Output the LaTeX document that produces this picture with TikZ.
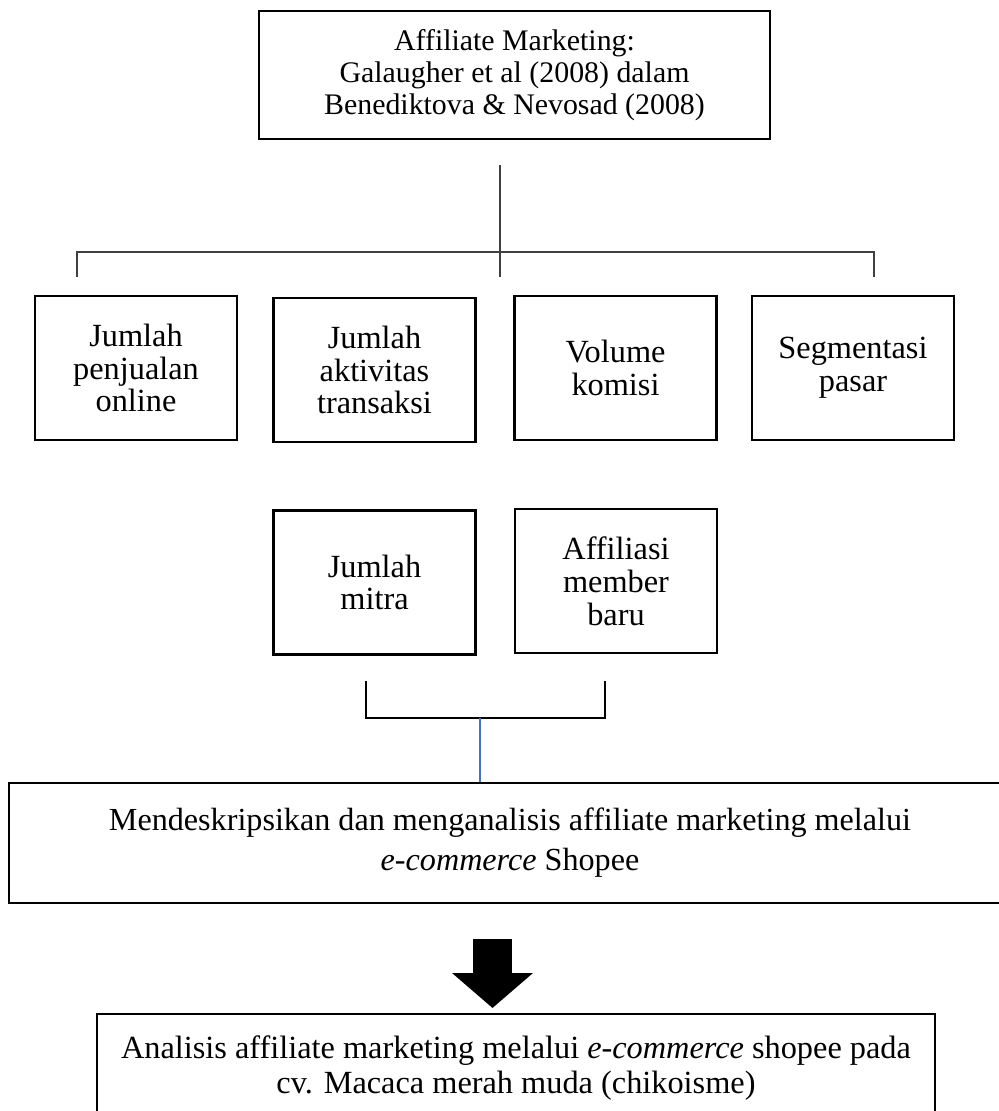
\documentclass[tikz,border=0pt]{standalone}
\usepackage{fontspec}
\setmainfont{Liberation Serif}
\usetikzlibrary{arrows.meta}

\begin{document}
\begin{tikzpicture}[x=0.02cm, y=-0.02cm,
    box/.style={draw, line width=1.3pt, align=center, inner sep=0pt,
      font=\fontsize{18.4}{18.7}\selectfont},
    item/.style={box, minimum width=4.04cm, minimum height=2.88cm},
    tree/.style={draw=black!75, line width=0.8pt}]
  \useasboundingbox (0,0) rectangle (999,1111);
  % theory
  \node[box, minimum width=10.22cm, minimum height=2.56cm,
    font=\fontsize{17}{18.4}\selectfont] (theory) at (514.5,75)
    {Affiliate Marketing:\\ Galaugher et al (2008) dalam\\ Benediktova \& Nevosad (2008)};
  % indicators
  \node[item] (ind1) at (136,368) {Jumlah\\ penjualan\\ online};
  \node[item] (ind2) at (374.5,370) {Jumlah\\ aktivitas\\ transaksi};
  \node[item] (ind3) at (615.5,368) {Volume\\ komisi};
  \node[item] (ind4) at (853,368) {Segmentasi\\ pasar};
  \node[item] (ind5) at (374.5,582.5) {Jumlah\\ mitra};
  \node[item] (ind6) at (616,581) {Affiliasi\\ member\\ baru};
  % aim and result
  \node[box, minimum width=20.04cm, minimum height=2.4cm,
    font=\fontsize{18.3}{22.7}\selectfont] (aim) at (510,843)
    {Mendeskripsikan dan menganalisis affiliate marketing melalui\\ \textit{e-commerce} Shopee};
  \node[box, minimum width=16.76cm, minimum height=2.16cm,
    font=\fontsize{18.4}{20.4}\selectfont] (result) at (516,1068)
    {Analisis affiliate marketing melalui \textit{e-commerce} shopee pada\\ cv. Macaca merah muda (chikoisme)};

  \coordinate (hubtop) at (500,165);
  \coordinate (hub) at (500,252);
  \coordinate (hubbot) at (500,277);
  \coordinate (lft) at (77,277);
  \coordinate (rgt) at (874,277);
  \draw[tree] (hubtop) -- (hubbot);
  \draw[tree] (lft) |- (hub) -| (rgt);

  \coordinate (brl) at (366,681);
  \coordinate (brr) at (605,681);
  \coordinate (brmid) at (480,718);
  \draw[line width=0.8pt] (brl) |- (brmid) -| (brr);
  \draw[draw={rgb,255:red,68;green,114;blue,196}, line width=0.6pt] (brmid) -- (brmid |- aim.north);

  \coordinate (arrtop) at (492.5,939);
  \coordinate (arrtip) at (492.5,1008);
  \draw[line width=0.78cm, -{Triangle[length=0.7cm, width=1.58cm]}] (arrtop) -- (arrtip);
\end{tikzpicture}
\end{document}
